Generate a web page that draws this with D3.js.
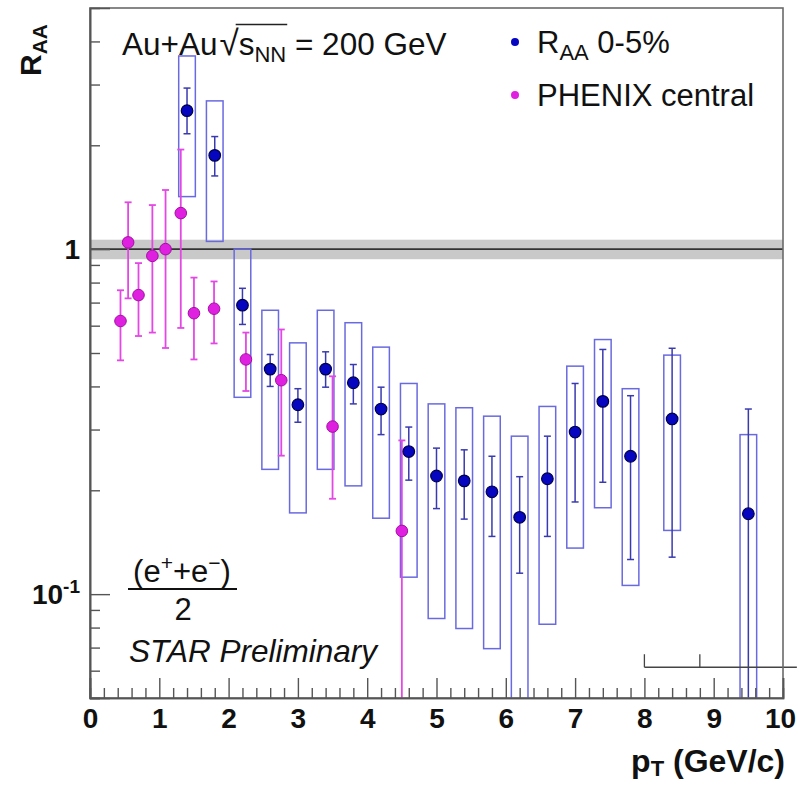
<!DOCTYPE html>
<html><head><meta charset="utf-8">
<script src="https://cdn.jsdelivr.net/npm/d3@7"></script>
<style>
body{margin:0;background:#fff}
svg{display:block}
text{font-family:"Liberation Sans",Arial,Helvetica,sans-serif;fill:#111}
</style>
</head><body>
<svg id="c" width="797" height="785"></svg>
<script>
// ---- STAR R_AA 0-5% ----
const starPt     = [1.4, 1.8, 2.2, 2.6, 3.0, 3.4, 3.8, 4.2, 4.6, 5.0, 5.4, 5.8, 6.2, 6.6, 7.0, 7.4, 7.8, 8.4, 9.5];
const starR      = [2.52, 1.87, 0.688, 0.449, 0.354, 0.449, 0.410, 0.344, 0.259, 0.220, 0.213, 0.198, 0.167, 0.216, 0.295, 0.362, 0.251, 0.322, 0.171];
const starStatHi = [2.93, 2.12, 0.770, 0.495, 0.394, 0.504, 0.463, 0.398, 0.305, 0.265, 0.262, 0.251, 0.219, 0.287, 0.408, 0.512, 0.376, 0.516, 0.344];
const starStatLo = [2.16, 1.63, 0.605, 0.400, 0.315, 0.398, 0.356, 0.290, 0.214, 0.177, 0.165, 0.147, 0.115, 0.147, 0.185, 0.211, 0.126, 0.128, 0.02];
const starSysHi  = [3.63, 2.69, 1.00, 0.665, 0.535, 0.665, 0.612, 0.520, 0.408, 0.356, 0.347, 0.328, 0.287, 0.350, 0.458, 0.547, 0.394, 0.493, 0.290];
const starSysLo  = [1.42, 1.053, 0.372, 0.230, 0.172, 0.230, 0.206, 0.166, 0.112, 0.085, 0.0795, 0.0695, 0.02, 0.0818, 0.136, 0.178, 0.106, 0.153, 0.02];
// ---- PHENIX central ----
const phenixPt = [0.44, 0.55, 0.70, 0.90, 1.09, 1.31, 1.50, 1.79, 2.25, 2.76, 3.50, 4.50];
const phenixR  = [0.619, 1.046, 0.736, 0.956, 1.0, 1.272, 0.652, 0.672, 0.479, 0.417, 0.306, 0.1525];
const phenixHi = [0.760, 1.367, 0.911, 1.342, 1.484, 1.944, 0.827, 0.806, 0.573, 0.585, 0.428, 0.279];
const phenixLo = [0.476, 0.720, 0.560, 0.573, 0.517, 0.591, 0.479, 0.533, 0.388, 0.252, 0.189, 0.01];
// ---- reference band at unity ----
const bandHi = 1.065, bandLo = 0.935, unity = 1;
// ---- axis ticks ----
const xMajorTicks = [0,1,2,3,4,5,6,7,8,9,10];
const xMinorTicks = d3.range(0, 10.001, 0.2).filter(v => Math.abs(v - Math.round(v)) > 1e-6);
const yMajorTicks = [0.1, 1];
const yMinorTicks = [0.05,0.06,0.07,0.08,0.09,0.2,0.3,0.4,0.5,0.6,0.7,0.8,0.9,2,3,4];
// ---- small scale bar (bottom right) ----
const scaleBarTicks = [8, 8.8];
const scaleBarEnd = 10.2, scaleBarLevel = 0.0614;

const svg = d3.select("#c");
const L = 90, R = 783, T = 8, B = 698;
const x = d3.scaleLinear().domain([0, 10]).range([L, R]);
const y = d3.scaleLog().domain([0.05, 5]).range([B, T]);

svg.append("defs").append("clipPath").attr("id","clip")
  .append("rect").attr("x",L).attr("y",T).attr("width",R-L).attr("height",B-T);
const plot = svg.append("g").attr("clip-path","url(#clip)");

// band and unity line
plot.append("rect").attr("x",L).attr("width",R-L)
  .attr("y",y(bandHi)).attr("height",y(bandLo)-y(bandHi)).attr("fill","#c9c9c9");
plot.append("line").attr("x1",L).attr("x2",R).attr("y1",y(unity)).attr("y2",y(unity))
  .attr("stroke","#333").attr("stroke-width",1.6);

const hw = 0.12; // box half width in pT units
const star = starPt.map((p,i)=>({p, r:starR[i], sh:starStatHi[i], sl:starStatLo[i], yh:starSysHi[i], yl:starSysLo[i]}));
const phx = phenixPt.map((p,i)=>({p, r:phenixR[i], h:phenixHi[i], l:phenixLo[i]}));

// systematic boxes
plot.selectAll(".box").data(star).join("rect")
  .attr("x", d=>x(d.p-hw)).attr("width", d=>x(d.p+hw)-x(d.p-hw))
  .attr("y", d=>y(d.yh)).attr("height", d=>y(d.yl)-y(d.yh))
  .attr("fill","none").attr("stroke","#6a6ae0").attr("stroke-width",1.5);

const cap = 3.5;
function errbars(sel, data, hiK, loK, color, w){
  const g = sel.append("g").attr("stroke",color).attr("stroke-width",w).attr("fill","none");
  g.selectAll(".v").data(data).join("line")
    .attr("x1",d=>x(d.p)).attr("x2",d=>x(d.p)).attr("y1",d=>y(d[hiK])).attr("y2",d=>y(d[loK]));
  g.selectAll(".ct").data(data).join("line")
    .attr("x1",d=>x(d.p)-cap).attr("x2",d=>x(d.p)+cap).attr("y1",d=>y(d[hiK])).attr("y2",d=>y(d[hiK]));
  g.selectAll(".cb").data(data).join("line")
    .attr("x1",d=>x(d.p)-cap).attr("x2",d=>x(d.p)+cap).attr("y1",d=>y(d[loK])).attr("y2",d=>y(d[loK]));
}
errbars(plot, star, "sh", "sl", "#3a3ab0", 1.5);
errbars(plot, phx, "h", "l", "#e448e4", 1.8);

plot.selectAll(".pm").data(phx).join("circle")
  .attr("cx",d=>x(d.p)).attr("cy",d=>y(d.r)).attr("r",5.8)
  .attr("fill","#e020e0").attr("stroke","#a010a0").attr("stroke-width",1);
plot.selectAll(".sm").data(star).join("circle")
  .attr("cx",d=>x(d.p)).attr("cy",d=>y(d.r)).attr("r",5.8)
  .attr("fill","#0606c0").attr("stroke","#00004a").attr("stroke-width",1.2);

// scale bar bottom right
const sb = svg.append("g").attr("stroke","#444").attr("stroke-width",1.3);
sb.append("line").attr("x1",x(scaleBarTicks[0])).attr("x2",x(scaleBarEnd))
  .attr("y1",y(scaleBarLevel)).attr("y2",y(scaleBarLevel));
sb.selectAll(".t").data(scaleBarTicks).join("line")
  .attr("x1",d=>x(d)).attr("x2",d=>x(d)).attr("y1",y(scaleBarLevel)).attr("y2",y(scaleBarLevel)-13);

// frame
svg.append("rect").attr("x",L).attr("y",T).attr("width",R-L).attr("height",B-T)
  .attr("fill","none").attr("stroke","#6a6a6a").attr("stroke-width",1.6);

// axes
const axColor = "#555";
const gx = svg.append("g").attr("transform",`translate(0,${B})`)
  .call(d3.axisBottom(x).tickValues(xMajorTicks).tickSize(-20).tickPadding(10).tickFormat(d3.format("d")));
svg.append("g").attr("transform",`translate(0,${B})`)
  .call(d3.axisBottom(x).tickValues(xMinorTicks).tickSize(-10).tickFormat(""));
const gy = svg.append("g").attr("transform",`translate(${L},0)`)
  .call(d3.axisLeft(y).tickValues(yMajorTicks).tickSize(-20).tickPadding(10).tickFormat(d => d===1 ? "1" : "10"));
svg.append("g").attr("transform",`translate(${L},0)`)
  .call(d3.axisLeft(y).tickValues(yMinorTicks).tickSize(-10).tickFormat(""));
svg.selectAll(".domain").attr("stroke",axColor).attr("stroke-width",1.6);
svg.selectAll(".tick line").attr("stroke",axColor).attr("stroke-width",1.4);
gx.selectAll("text").attr("font-size",28).attr("font-weight","bold").attr("fill","#111")
  .attr("font-family",'"Liberation Sans",Arial,sans-serif');
gx.selectAll(".tick").filter(d=>d===10).select("text").attr("dx",-3);
gy.selectAll("text").attr("font-size",28).attr("font-weight","bold").attr("fill","#111")
  .attr("font-family",'"Liberation Sans",Arial,sans-serif');
gy.selectAll(".tick").filter(d=>d===0.1).select("text").each(function(){
  const t = d3.select(this); t.text("");
  t.append("tspan").text("10");
  t.append("tspan").attr("font-size",19).attr("dy","-0.55em").text("-1");
});

// y-axis title R_AA (rotated)
const yt = svg.append("text").attr("transform","translate(41,76) rotate(-90)")
  .attr("font-size",30).attr("font-weight","bold");
yt.append("tspan").text("R");
yt.append("tspan").attr("font-size",21).attr("dy","0.3em").text("AA");

// x-axis title
const xt = svg.append("text").attr("x",785).attr("y",772).attr("text-anchor","end")
  .attr("font-size",32).attr("font-weight","bold");
xt.append("tspan").text("p");
xt.append("tspan").attr("font-size",22).attr("dy","0.2em").text("T");
xt.append("tspan").attr("dy","-0.14em").text(" (GeV/c)");

// title
const tt = svg.append("text").attr("x",122).attr("y",55).attr("font-size",31.5);
tt.append("tspan").text("Au+Au");
tt.append("tspan").attr("font-size",35).attr("dx",2).text("\u221A");
tt.append("tspan").text("s");
tt.append("tspan").attr("font-size",22).attr("dy","0.3em").text("NN");
tt.append("tspan").attr("dy","-0.21em").text(" = 200 GeV");
{
  const node = tt.node();
  const full = node.textContent;
  const iS = full.indexOf("\u221A") + 1;
  const iE = full.indexOf("NN") + 1;
  const x1 = node.getStartPositionOfChar(iS).x;
  const x2 = node.getEndPositionOfChar(iE).x;
  svg.append("line").attr("x1",x1-3).attr("x2",x2+1).attr("y1",24.5).attr("y2",24.5)
    .attr("stroke","#222").attr("stroke-width",1.3);
}

// legend
const legend = [
  {label:"R", sub:"AA", rest:" 0-5%", fill:"#0606c0", y:42},
  {label:"PHENIX central", sub:null, rest:"", fill:"#e020e0", y:95}
];
legend.forEach(e=>{
  svg.append("circle").attr("cx",515).attr("cy",e.y).attr("r",4).attr("fill",e.fill);
  const t = svg.append("text").attr("x",537).attr("y",e.y+11).attr("font-size",31);
  t.append("tspan").text(e.label);
  if (e.sub){
    t.append("tspan").attr("font-size",22).attr("dy","0.3em").text(e.sub);
    t.append("tspan").attr("dy","-0.21em").text(e.rest);
  }
});

// (e+ + e-)/2 annotation
const num = svg.append("text").attr("x",182).attr("y",582).attr("text-anchor","middle").attr("font-size",31);
num.append("tspan").text("(e");
num.append("tspan").attr("font-size",21).attr("dy","-0.55em").text("+");
num.append("tspan").attr("dy","0.37em").text("+e");
num.append("tspan").attr("font-size",21).attr("dy","-0.55em").text("\u2212");
num.append("tspan").attr("dy","0.37em").text(")");
svg.append("line").attr("x1",128).attr("x2",237).attr("y1",589).attr("y2",589)
  .attr("stroke","#111").attr("stroke-width",2);
svg.append("text").attr("x",183).attr("y",620).attr("text-anchor","middle").attr("font-size",31).text("2");
svg.append("text").attr("x",129).attr("y",662).attr("font-size",31.5).attr("font-style","italic").text("STAR Preliminary");
</script>
</body></html>
